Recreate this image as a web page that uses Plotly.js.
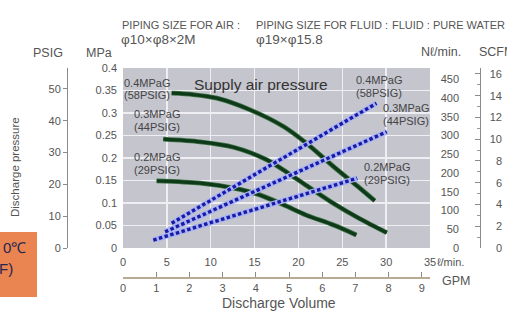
<!DOCTYPE html>
<html>
<head>
<meta charset="utf-8">
<script src="https://cdn.plot.ly/plotly-3.0.1.min.js"></script>
<style>
  html, body { margin: 0; padding: 0; background: #fff; }
  #chart { width: 507px; height: 319px; }
</style>
</head>
<body>
<div id="chart"></div>
<script>
// ---- Data ----
// Discharge pressure curves (x: discharge volume L/min, y: MPa)
const p04X = [5.55, 8.0, 10.7, 14.5, 18.3, 20.9, 24.0, 27.0, 28.7];
const p04Y = [0.344, 0.341, 0.333, 0.307, 0.270, 0.233, 0.181, 0.133, 0.105];
const p03X = [4.6, 8.8, 12.6, 16.4, 18.7, 20.9, 24.0, 27.0, 30.07];
const p03Y = [0.242, 0.236, 0.224, 0.196, 0.168, 0.139, 0.099, 0.065, 0.034];
const p02X = [3.84, 8.8, 12.6, 15.6, 18.3, 20.9, 24.0, 26.6];
const p02Y = [0.149, 0.144, 0.133, 0.118, 0.096, 0.073, 0.051, 0.029];
// Air consumption lines (x: L/min, y: Nl/min)
const a04X = [5.55, 28.9];
const a04Y = [66, 386];
const a03X = [4.8, 30.07];
const a03Y = [43, 310];
const a02X = [3.45, 26.7];
const a02Y = [21, 186];

// Tick values / labels
const lminTicks = [0, 5, 10, 15, 20, 25, 30, 35];
const mpaTicks = [0, 0.05, 0.1, 0.15, 0.2, 0.25, 0.3, 0.35, 0.4];
const mpaLabels = ['0', '0.05', '0.1', '0.15', '0.2', '0.25', '0.3', '0.35', '0.4'];
const psigTicks = [0, 10, 20, 30, 40, 50];
const nlTicks = [0, 50, 100, 150, 200, 250, 300, 350, 400, 450];
const scfmTicks = [0, 2, 4, 6, 8, 10, 12, 14, 16];
const gpmTicks = [0, 1, 2, 3, 4, 5, 6, 7, 8, 9];
const L_PER_GAL = 3.785411784;

// ---- layout helpers (pixel -> paper) ----
const W = 507, H = 319;
const px = v => v / W;
const py = v => 1 - v / H;

const FONT = 'Liberation Sans, Arial, Helvetica, sans-serif';
const TXT = '#555';

const greenHalo = '#3f7446', greenCore = '#0f3a19';
const blueHalo = '#a8b3f3', blueCore = '#1a1aa6';

function green(x, y) {
  return [
    {x: x, y: y, mode: 'lines', line: {color: greenHalo, width: 4.8, shape: 'spline', smoothing: 0.8}, hoverinfo: 'skip', showlegend: false},
    {x: x, y: y, mode: 'lines', line: {color: greenCore, width: 3.2, shape: 'spline', smoothing: 0.8}, hoverinfo: 'skip', showlegend: false}
  ];
}
function blue(x, y) {
  return [
    {x: x, y: y, yaxis: 'y2', mode: 'lines', line: {color: blueHalo, width: 5.5}, hoverinfo: 'skip', showlegend: false},
    {x: x, y: y, yaxis: 'y2', mode: 'lines', line: {color: blueCore, width: 3.4, dash: '3.5px,2.4px'}, hoverinfo: 'skip', showlegend: false}
  ];
}
const ghost = (xa, ya) => ({x: [0], y: [0], xaxis: xa, yaxis: ya, mode: 'markers', marker: {opacity: 0}, hoverinfo: 'skip', showlegend: false});

const traces = [
  ...green(p04X, p04Y), ...green(p03X, p03Y), ...green(p02X, p02Y),
  ...blue(a04X, a04Y), ...blue(a03X, a03Y), ...blue(a02X, a02Y),
  ghost('x', 'y3'), ghost('x', 'y4'), ghost('x', 'y5'), ghost('x2', 'y')
];

const tickFont = {family: FONT, size: 11, color: TXT};
const yDomain = [py(248), py(68)];

function ann(text, x, y, opts) {
  return Object.assign({
    text: text, x: px(x), y: py(y), xref: 'paper', yref: 'paper',
    xanchor: 'left', yanchor: 'middle', showarrow: false, borderpad: 0,
    font: {family: FONT, size: 11, color: TXT}
  }, opts || {});
}
const labFont = {family: FONT, size: 11, color: '#444'};

const annotations = [
  ann('PIPING SIZE FOR AIR :', 121, 25),
  ann('φ10×φ8×2M', 120, 40, {font: {family: FONT, size: 13.5, color: TXT}}),
  ann('PIPING SIZE FOR FLUID :', 255, 25),
  ann('φ19×φ15.8', 255, 40, {font: {family: FONT, size: 13.5, color: TXT}}),
  ann('FLUID : PURE WATER', 391, 25),
  ann('PSIG', 32, 53, {font: {family: FONT, size: 12.5, color: TXT}}),
  ann('MPa', 85, 53, {font: {family: FONT, size: 12.5, color: TXT}}),
  ann('Nℓ/min.', 420, 52, {font: {family: FONT, size: 12.5, color: TXT}}),
  ann('SCFM', 478, 52, {font: {family: FONT, size: 12.5, color: TXT}}),
  ann('Discharge pressure', 15, 167, {xanchor: 'center', textangle: -90, font: {family: FONT, size: 11.5, color: TXT}}),
  ann('Supply air pressure', 193, 85, {font: {family: FONT, size: 15.5, color: '#333'}}),
  ann('0.4MPaG', 123, 83, {font: labFont}),
  ann('(58PSIG)', 123, 95, {font: labFont}),
  ann('0.3MPaG', 133, 114, {font: labFont}),
  ann('(44PSIG)', 133, 127, {font: labFont}),
  ann('0.2MPaG', 133, 157, {font: labFont}),
  ann('(29PSIG)', 133, 170, {font: labFont}),
  ann('0.4MPaG', 355, 80, {font: labFont}),
  ann('(58PSIG)', 355, 93, {font: labFont}),
  ann('0.3MPaG', 382, 108, {font: labFont}),
  ann('(44PSIG)', 382, 121, {font: labFont}),
  ann('0.2MPaG', 363, 167, {font: labFont}),
  ann('(29PSIG)', 363, 180, {font: labFont}),
  ann('ℓ/min.', 436, 262, {font: {family: FONT, size: 11, color: TXT}}),
  ann('GPM', 441, 281, {font: {family: FONT, size: 12.5, color: TXT}}),
  ann('Discharge Volume', 279, 303, {xanchor: 'center', font: {family: FONT, size: 14, color: TXT}}),
  ann('0℃', 27, 247, {xanchor: 'right', font: {family: FONT, size: 15, color: '#262650'}}),
  ann('F)', 14, 268, {xanchor: 'right', font: {family: FONT, size: 15, color: '#262650'}})
];

const layout = {
  width: W, height: H,
  margin: {l: 0, r: 0, t: 0, b: 0, pad: 0},
  paper_bgcolor: '#ffffff',
  plot_bgcolor: '#c5c5ce',
  showlegend: false,
  font: {family: FONT, color: TXT},
  xaxis: {
    domain: [px(123), px(430)], range: [0, 35], anchor: 'y',
    tickvals: lminTicks, ticktext: lminTicks.map(String),
    showgrid: true, gridcolor: '#eeeef3', gridwidth: 1.5,
    zeroline: false, showline: false, ticks: '', ticklabelstandoff: 6,
    tickfont: tickFont, fixedrange: true
  },
  xaxis2: {
    overlaying: 'x', anchor: 'free', position: py(277), side: 'bottom',
    range: [0, 35 / L_PER_GAL], tickvals: gpmTicks, ticktext: gpmTicks.map(String),
    showgrid: false, zeroline: false, showline: true, linecolor: '#b9ab92', linewidth: 1.5,
    ticks: 'inside', ticklen: 5, tickcolor: '#8a8a8a', tickwidth: 1,
    ticklabelstandoff: 0, tickfont: tickFont, fixedrange: true
  },
  yaxis: {
    domain: yDomain, range: [0, 0.4], anchor: 'x',
    tickvals: mpaTicks, ticktext: mpaLabels,
    showgrid: true, gridcolor: '#eeeef3', gridwidth: 1.5,
    zeroline: false, showline: false, ticks: '', ticklabelstandoff: 5,
    tickfont: tickFont, fixedrange: true
  },
  yaxis2: {
    overlaying: 'y', anchor: 'free', position: px(459), side: 'left',
    range: [0, 480], tickvals: nlTicks, ticktext: nlTicks.map(String),
    showgrid: false, zeroline: false, showline: false, ticks: '',
    tickfont: tickFont, fixedrange: true
  },
  yaxis3: {
    overlaying: 'y', anchor: 'free', position: px(67), side: 'left',
    range: [0, 56.6], tickvals: psigTicks, ticktext: psigTicks.map(String),
    showgrid: false, zeroline: false, showline: true, linecolor: '#8a8a8a', linewidth: 1,
    ticks: 'outside', ticklen: 4, tickcolor: '#8a8a8a',
    tickfont: tickFont, fixedrange: true
  },
  yaxis4: {
    overlaying: 'y', anchor: 'free', position: px(480), side: 'right',
    range: [0, 16.55], tickvals: scfmTicks, showticklabels: false,
    showgrid: false, zeroline: false, showline: true, linecolor: '#8a8a8a', linewidth: 1,
    ticks: 'inside', ticklen: 5, tickcolor: '#8a8a8a',
    minor: {dtick: 1, ticks: 'inside', ticklen: 3, tickcolor: '#9a9a9a', showgrid: false},
    fixedrange: true
  },
  yaxis5: {
    overlaying: 'y', anchor: 'free', position: px(502), side: 'left',
    range: [0, 16.55], tickvals: scfmTicks, ticktext: scfmTicks.map(String),
    showgrid: false, zeroline: false, showline: false, ticks: '',
    tickfont: tickFont, fixedrange: true
  },
  shapes: [
    {type: 'rect', xref: 'paper', yref: 'paper', x0: 0, x1: px(37), y0: py(297), y1: py(232),
     fillcolor: '#ea8450', line: {width: 0}, layer: 'below'}
  ],
  annotations: annotations
};

Plotly.newPlot('chart', traces, layout, {displayModeBar: false, staticPlot: true});
</script>
</body>
</html>
